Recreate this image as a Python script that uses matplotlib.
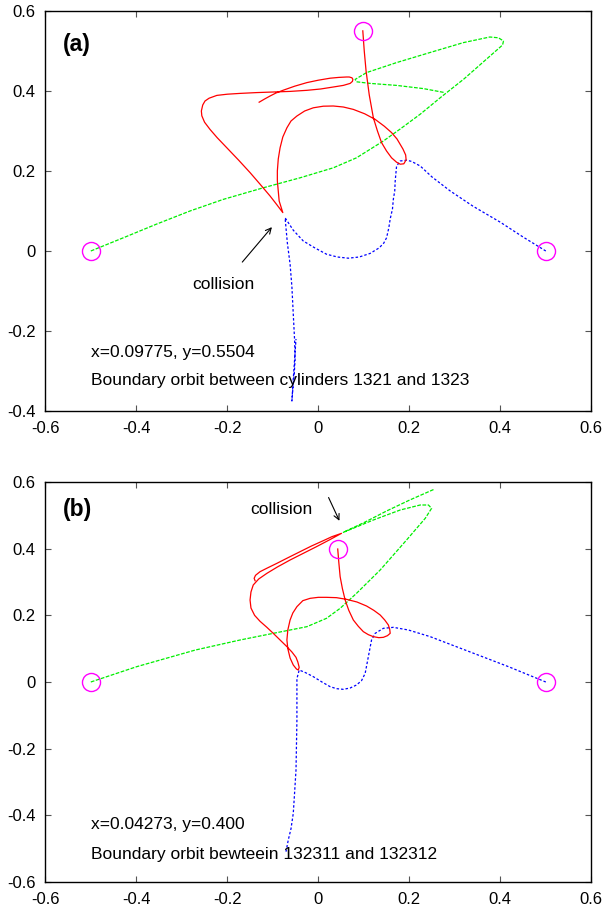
import numpy as np
import matplotlib
matplotlib.use("Agg")
import matplotlib.pyplot as plt

plt.rcParams['font.family'] = ['Liberation Sans', 'DejaVu Sans']

# ---- panel (a) ----
a_red_x = [0.0978, 0.101, 0.105, 0.112, 0.121, 0.130, 0.139, 0.150, 0.161, 0.172, 0.180, 0.188, 0.193, 0.192,
           0.186, 0.173, 0.161, 0.145, 0.125, 0.102, 0.077, 0.055, 0.033, 0.011, -0.011, -0.030, -0.047,
           -0.060, -0.069, -0.078, -0.084, -0.088, -0.090, -0.090, -0.088, -0.086, -0.078,
           -0.092, -0.106, -0.128, -0.150, -0.175, -0.201, -0.222, -0.238, -0.250, -0.256, -0.257, -0.254,
           -0.249, -0.240, -0.223, -0.200, -0.172, -0.136, -0.099, -0.062, -0.025, 0.005, 0.033, 0.055,
           0.070, 0.075, 0.076, 0.074, 0.068, 0.062, 0.045, 0.026, 0.000, -0.025, -0.052, -0.077, -0.093,
           -0.106, -0.118, -0.130]
a_red_y = [0.5504, 0.50, 0.45, 0.39, 0.333, 0.30, 0.271, 0.250, 0.233, 0.222, 0.217, 0.218, 0.228, 0.240,
           0.255, 0.280, 0.296, 0.312, 0.329, 0.343, 0.354, 0.360, 0.3625, 0.362, 0.358, 0.350, 0.3375,
           0.325, 0.308, 0.285, 0.258, 0.230, 0.20, 0.175, 0.15, 0.125, 0.096,
           0.117, 0.1375, 0.167, 0.196, 0.227, 0.258, 0.283, 0.304, 0.322, 0.338, 0.350, 0.365,
           0.375, 0.382, 0.389, 0.392, 0.394, 0.396, 0.3975, 0.399, 0.4017, 0.405, 0.41, 0.414,
           0.419, 0.424, 0.429, 0.433, 0.435, 0.435, 0.434, 0.432, 0.427, 0.421, 0.412, 0.402, 0.395,
           0.3875, 0.380, 0.372]

a_blue_x = [0.5, 0.45, 0.40, 0.34, 0.29, 0.25, 0.224, 0.205, 0.194, 0.180, 0.172, 0.169, 0.168, 0.165, 0.163,
            0.158, 0.155, 0.150, 0.144, 0.134, 0.114, 0.090, 0.066, 0.042, 0.018, -0.008, -0.033, -0.055, -0.073,
            -0.068, -0.062, -0.058, -0.055, -0.052, -0.051, -0.053, -0.056, -0.058, -0.055, -0.049]
a_blue_y = [0.0, 0.035, 0.072, 0.112, 0.150, 0.185, 0.2125, 0.224, 0.227, 0.225, 0.212, 0.175, 0.150, 0.130, 0.105,
            0.080, 0.058, 0.033, 0.020, 0.008, -0.006, -0.015, -0.018, -0.015, -0.008, 0.008, 0.025, 0.052, 0.083,
            0.020, -0.033, -0.09, -0.158, -0.225, -0.27, -0.31, -0.345, -0.375, -0.32, -0.22]

a_green_x = [-0.5, -0.42, -0.356, -0.282, -0.209, -0.121, -0.040, 0.033, 0.084, 0.143, 0.180, 0.224, 0.27,
             0.32, 0.36, 0.39, 0.405, 0.407, 0.396, 0.377, 0.319, 0.245, 0.172, 0.106, 0.081, 0.084,
             0.114, 0.172, 0.231, 0.278]
a_green_y = [0.0, 0.037, 0.067, 0.100, 0.129, 0.158, 0.183, 0.208, 0.233, 0.275, 0.305, 0.342, 0.385,
             0.430, 0.470, 0.500, 0.515, 0.525, 0.533, 0.535, 0.521, 0.496, 0.471, 0.446, 0.429, 0.423,
             0.419, 0.414, 0.406, 0.396]

a_circ_x = [-0.5, 0.5, 0.09775]
a_circ_y = [0.0, 0.0, 0.5504]

# ---- panel (b) ----
b_red_x = [0.0427, 0.045, 0.048, 0.053, 0.059, 0.067, 0.077, 0.088, 0.099, 0.110, 0.121, 0.133, 0.143, 0.152,
           0.158, 0.157, 0.154, 0.146, 0.136, 0.122, 0.106, 0.085, 0.062, 0.040, 0.018, 0.000, -0.018,
           -0.034, -0.047, -0.056, -0.062, -0.067, -0.069, -0.067, -0.062, -0.055, -0.048, -0.044, -0.042,
           -0.045, -0.049, -0.058, -0.069, -0.084, -0.099, -0.113, -0.128, -0.140, -0.148, -0.150, -0.148,
           -0.143, -0.131, -0.113, -0.090, -0.062, -0.033, -0.004, 0.024, 0.051,
           0.030, 0.011, -0.015, -0.040, -0.065, -0.091, -0.112, -0.128, -0.138, -0.141, -0.139]
b_red_y = [0.399, 0.36, 0.316, 0.28, 0.246, 0.215, 0.186, 0.167, 0.151, 0.142, 0.136, 0.133, 0.134, 0.139,
           0.146, 0.158, 0.171, 0.186, 0.201, 0.215, 0.228, 0.240, 0.248, 0.253, 0.254, 0.254, 0.251,
           0.244, 0.226, 0.207, 0.186, 0.156, 0.126, 0.100, 0.072, 0.051, 0.039, 0.036, 0.044,
           0.060, 0.074, 0.090, 0.106, 0.126, 0.146, 0.164, 0.182, 0.200, 0.222, 0.246, 0.270,
           0.291, 0.309, 0.326, 0.345, 0.366, 0.386, 0.406, 0.426, 0.446,
           0.436, 0.424, 0.408, 0.391, 0.374, 0.356, 0.342, 0.331, 0.320, 0.311, 0.304]

b_blue_x = [0.5, 0.418, 0.332, 0.246, 0.198, 0.165, 0.143, 0.125, 0.117, 0.110, 0.103, 0.095, 0.084, 0.070,
            0.055, 0.040, 0.026, 0.008, -0.011, -0.028, -0.042, -0.047, -0.047, -0.048, -0.049, -0.052,
            -0.055, -0.060, -0.066, -0.071]
b_blue_y = [0.0, 0.046, 0.091, 0.136, 0.156, 0.164, 0.161, 0.146, 0.126, 0.076, 0.026, 0.004, -0.009, -0.018,
            -0.022, -0.020, -0.014, 0.000, 0.016, 0.028, 0.036, 0.010, -0.114, -0.19, -0.264, -0.33,
            -0.394, -0.44, -0.474, -0.509]

b_green_x = [-0.5, -0.399, -0.270, -0.172, -0.099, -0.025, 0.018, 0.048, 0.084, 0.136, 0.194, 0.235, 0.249,
             0.242, 0.224, 0.180, 0.121, 0.055, 0.100, 0.150, 0.201, 0.256]
b_green_y = [0.0, 0.046, 0.096, 0.126, 0.146, 0.166, 0.191, 0.221, 0.266, 0.336, 0.426, 0.491, 0.521,
             0.531, 0.531, 0.516, 0.486, 0.449, 0.478, 0.513, 0.546, 0.579]

b_circ_x = [-0.5, 0.5, 0.04273]
b_circ_y = [0.0, 0.0, 0.400]

ticks = [-0.6, -0.4, -0.2, 0, 0.2, 0.4, 0.6]
tick_labels = ['-0.6', '-0.4', '-0.2', '0', '0.2', '0.4', '0.6']

fig = plt.figure(figsize=(6.13, 9.07), dpi=100)
ax1 = fig.add_axes([45.3 / 613, 1 - 411 / 907, 546 / 613, 400 / 907])
ax2 = fig.add_axes([45.3 / 613, 1 - 882 / 907, 546 / 613, 400 / 907])


def draw(ax, rx, ry, bx, by, gx, gy, cx, cy):
    ax.plot(gx, gy, color='#00ee00', lw=0.9, linestyle=(0, (3, 1.2)))
    ax.plot(bx, by, color='#0000ff', lw=0.9, linestyle=(0, (2, 1.6)))
    ax.plot(rx, ry, color='#ff0000', lw=0.9)
    ax.plot(cx, cy, 'o', mfc='none', mec='#ff00ff', ms=13, mew=1.0)
    ax.set_xlim(-0.6, 0.6)
    ax.set_xticks(ticks)
    ax.set_xticklabels(tick_labels)
    ax.tick_params(direction='in', top=True, right=True, length=4, width=0.8,
                   labelsize=12, color='#555555')
    ax.tick_params(axis='y', pad=7)
    ax.tick_params(axis='x', pad=7)
    for s in ax.spines.values():
        s.set_linewidth(1.0)


draw(ax1, a_red_x, a_red_y, a_blue_x, a_blue_y, a_green_x, a_green_y, a_circ_x, a_circ_y)
ax1.set_ylim(-0.4, 0.6)
ax1.set_yticks(ticks[1:])
ax1.set_yticklabels(tick_labels[1:])
ax1.text(-0.562, 0.517, '(a)', fontsize=16.5, fontweight='bold', va='center')
ax1.annotate('', xy=(-0.098, 0.065), xytext=(-0.171, -0.033),
             arrowprops=dict(arrowstyle='->', color='black', lw=0.8))
ax1.text(-0.278, -0.083, 'collision', fontsize=12.5, va='center')
ax1.text(-0.5, -0.254, 'x=0.09775, y=0.5504', fontsize=12.5, va='center')
ax1.text(-0.5, -0.325, 'Boundary orbit between cylinders 1321 and 1323', fontsize=12.5, va='center')

draw(ax2, b_red_x, b_red_y, b_blue_x, b_blue_y, b_green_x, b_green_y, b_circ_x, b_circ_y)
ax2.set_ylim(-0.6, 0.6)
ax2.set_yticks(ticks)
ax2.set_yticklabels(tick_labels)
ax2.text(-0.562, 0.517, '(b)', fontsize=16.5, fontweight='bold', va='center')
ax2.annotate('', xy=(0.049, 0.476), xytext=(0.020, 0.561),
             arrowprops=dict(arrowstyle='->', color='black', lw=0.8))
ax2.text(-0.150, 0.517, 'collision', fontsize=12.5, va='center')
ax2.text(-0.5, -0.429, 'x=0.04273, y=0.400', fontsize=12.5, va='center')
ax2.text(-0.5, -0.519, 'Boundary orbit bewteein 132311 and 132312', fontsize=12.5, va='center')

fig.savefig('out.png', dpi=100)
